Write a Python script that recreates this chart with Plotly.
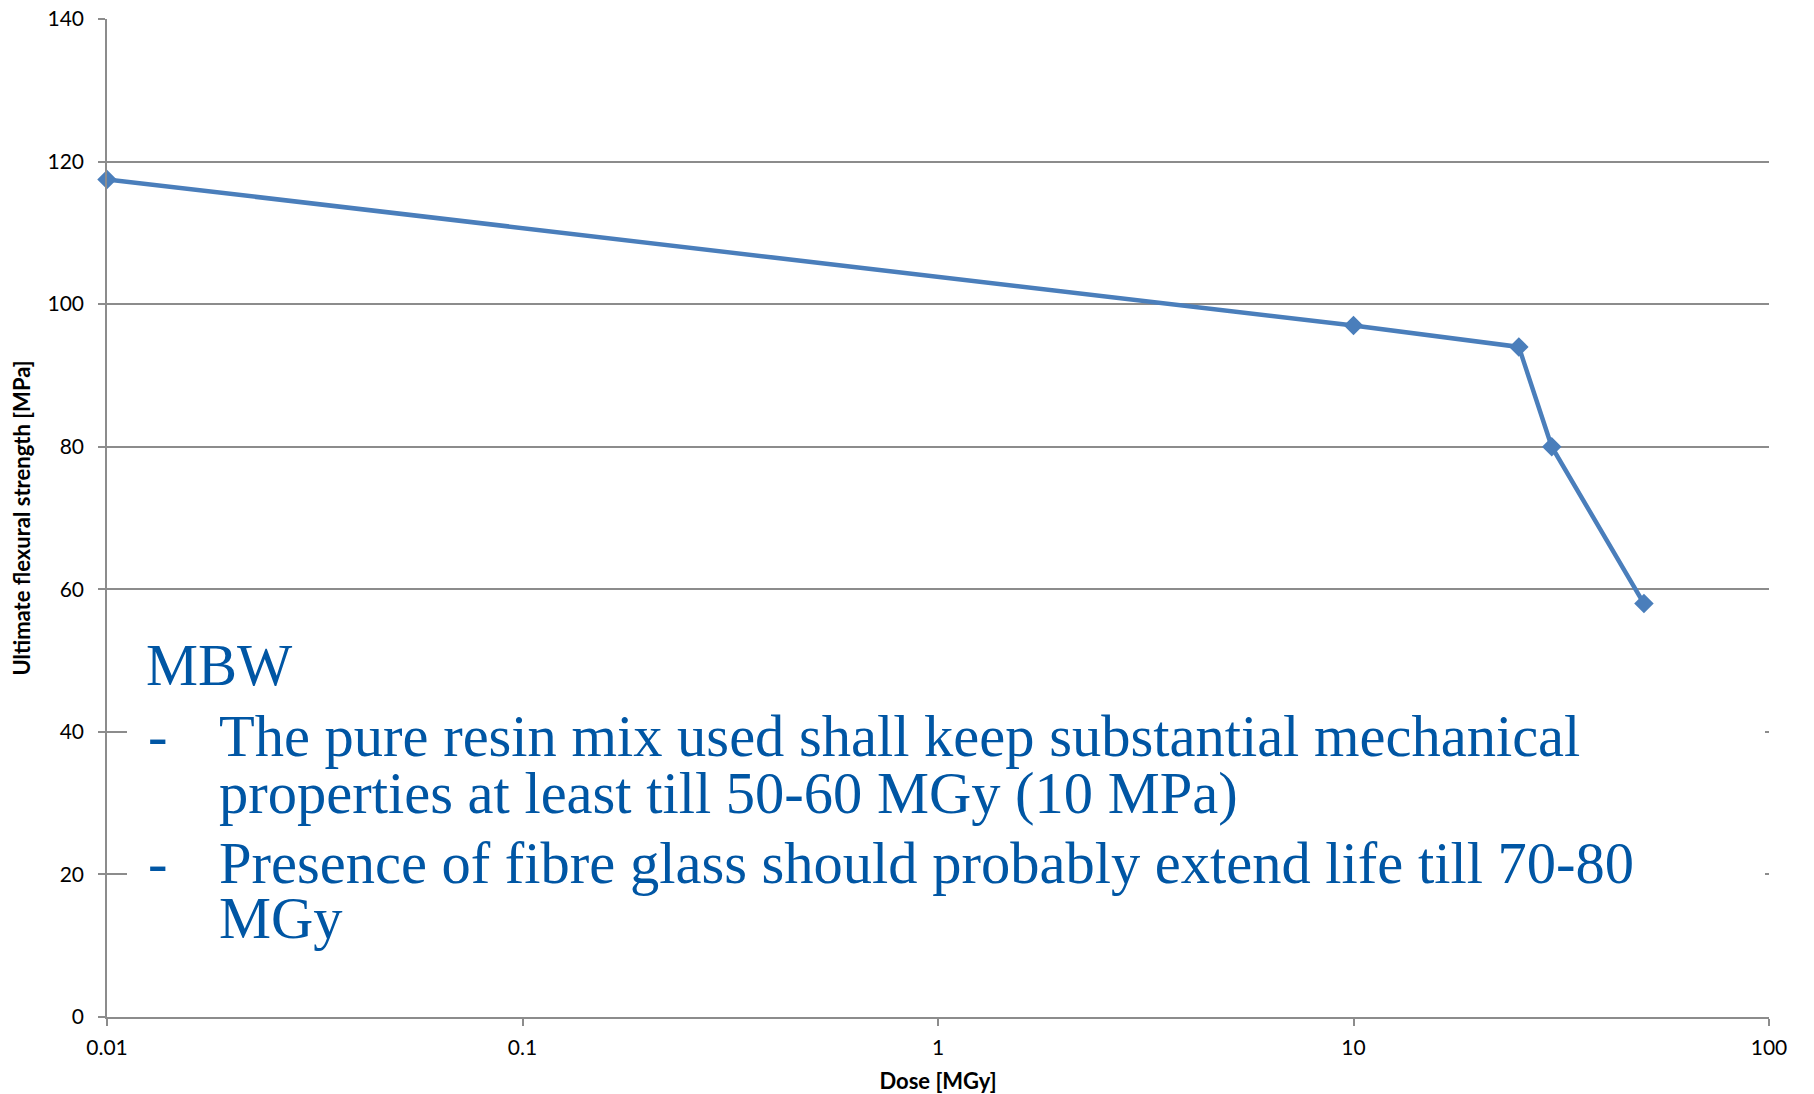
import plotly.graph_objects as go

# Flexural strength vs. absorbed dose
dose_mgy = [0.01, 10, 25, 30, 50]
strength_mpa = [117.5, 97, 94, 80, 58]

y_ticks = [0, 20, 40, 60, 80, 100, 120, 140]
x_ticks = [0.01, 0.1, 1, 10, 100]
x_tick_labels = ["0.01", "0.1", "1", "10", "100"]

note_title = "MBW"
note_lines = [
    ("-", "The pure resin mix used shall keep substantial mechanical"),
    ("", "properties at least till 50-60 MGy (10 MPa)"),
    ("-", "Presence of fibre glass should probably extend life till 70-80"),
    ("", "MGy"),
]

W, H = 1814, 1094
L, R, T, B = 107, 45, 19, 77
PW, PH = W - L - R, H - T - B

def px(x):
    return (x - L) / PW

def py(y):
    return (H - B - y) / PH

LINE_BLUE = "#4A7EBB"
TEXT_BLUE = "#0056A4"
GRID = "#8C8C8C"

fig = go.Figure()
fig.add_trace(go.Scatter(
    x=dose_mgy, y=strength_mpa, mode="lines+markers",
    line=dict(color=LINE_BLUE, width=4.5),
    marker=dict(symbol="diamond", size=15, color=LINE_BLUE),
    showlegend=False, cliponaxis=False,
))

tick_font = dict(family="Lato, Carlito, Calibri, sans-serif", size=21, color="#000000")
title_font = dict(family="Lato, Carlito, Calibri, sans-serif", size=22, color="#000000")

fig.update_layout(
    width=W, height=H,
    margin=dict(l=L, r=R, t=T, b=B, pad=0),
    paper_bgcolor="white", plot_bgcolor="white",
    xaxis=dict(
        type="log", range=[-2, 2], automargin=False,
        tickvals=x_ticks, ticktext=x_tick_labels,
        showgrid=False, zeroline=False,
        showline=True, linecolor=GRID, linewidth=1.5,
        ticks="outside", ticklen=7, tickwidth=1.5, tickcolor=GRID,
        ticklabelstandoff=4,
        tickfont=tick_font,
        title=dict(text="<b>Dose [MGy]</b>", font=title_font, standoff=18),
    ),
    yaxis=dict(
        range=[0, 140], tickvals=y_ticks, automargin=False,
        showgrid=True, gridcolor=GRID, gridwidth=1.5,
        zeroline=False,
        showline=True, linecolor=GRID, linewidth=1.5,
        ticks="outside", ticklen=7, tickwidth=1.5, tickcolor=GRID,
        ticklabelstandoff=10,
        tickfont=tick_font,
        title=dict(text="<b>Ultimate flexural strength [MPa]</b>", font=title_font, standoff=11),
    ),
)

# white text panel laid over the lower gridlines
fig.add_shape(
    type="rect", xref="paper", yref="paper",
    x0=px(127), x1=px(1765), y0=py(965), y1=py(615),
    fillcolor="white", line=dict(width=0), layer="above",
)

serif = dict(family="Liberation Serif, Times New Roman, serif", size=58.5, color=TEXT_BLUE)

def add_text(text, x, baseline):
    fig.add_annotation(
        text=text, xref="paper", yref="paper",
        x=px(x), y=py(baseline - 20), xanchor="left", yanchor="middle",
        showarrow=False, font=serif, borderpad=0,
    )

add_text(note_title, 145, 686)
baselines = [757, 813, 883, 938]
for (bullet, line), base in zip(note_lines, baselines):
    if bullet:
        add_text(bullet, 147, base)
    add_text(line, 218, base)

fig.write_html("out.html")
